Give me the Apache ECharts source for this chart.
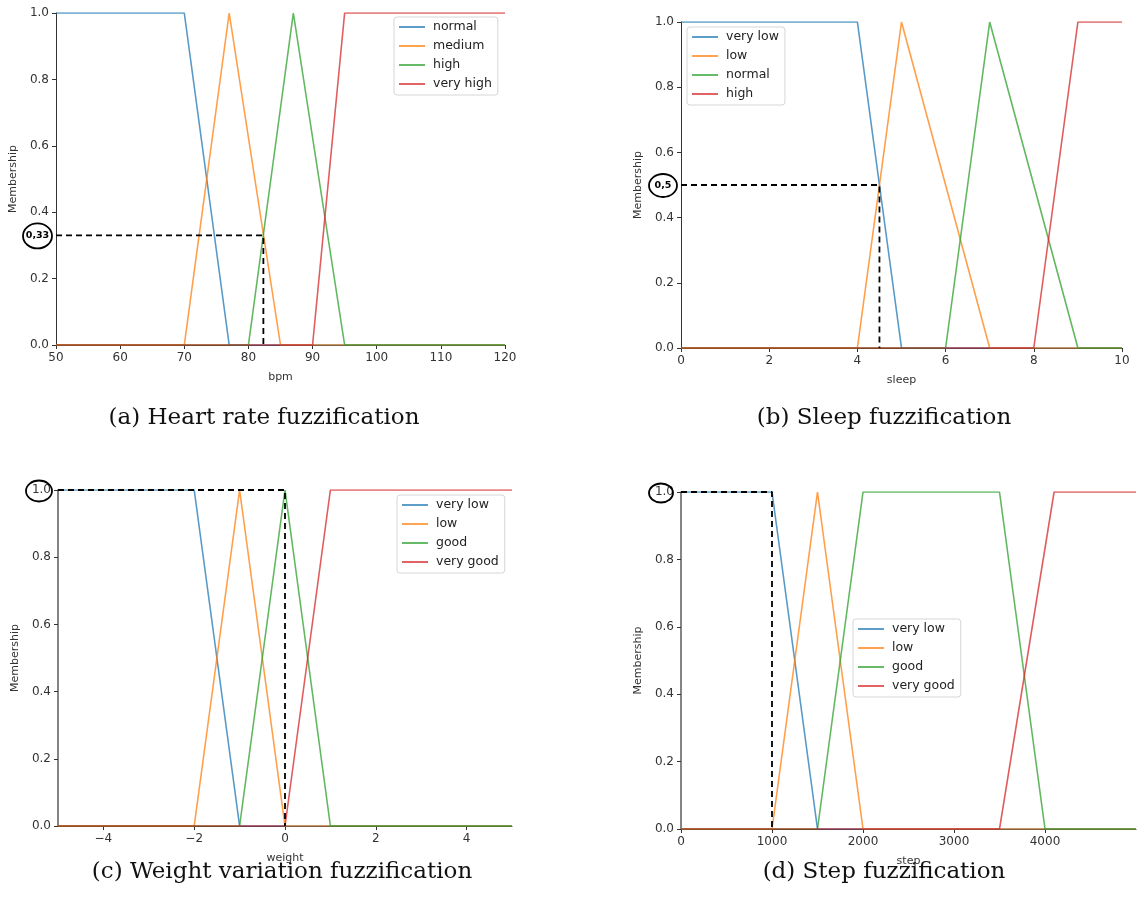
<!DOCTYPE html>
<html>
<head>
<meta charset="utf-8">
<script src="https://cdn.jsdelivr.net/npm/echarts@6/dist/echarts.min.js"></script>
<style>
  html, body { margin: 0; padding: 0; background: #fff; }
  #chart { width: 1137px; height: 920px; }
</style>
</head>
<body>
<div id="chart"></div>
<script>
// ---- Membership functions, given as breakpoints [x, membership] ----
// Heart rate (bpm)
const hrLabels   = ['normal', 'medium', 'high', 'very high'];
const hrNormal   = [[50, 1], [70, 1], [77, 0], [120, 0]];
const hrMedium   = [[50, 0], [70, 0], [77, 1], [85, 0], [120, 0]];
const hrHigh     = [[50, 0], [80, 0], [87, 1], [95, 0], [120, 0]];
const hrVeryHigh = [[50, 0], [90, 0], [95, 1], [120, 1]];
const hrTicks    = [50, 60, 70, 80, 90, 100, 110, 120];

// Sleep (hours)
const sleepLabels  = ['very low', 'low', 'normal', 'high'];
const sleepVeryLow = [[0, 1], [4, 1], [5, 0], [10, 0]];
const sleepLow     = [[0, 0], [4, 0], [5, 1], [7, 0], [10, 0]];
const sleepNormal  = [[0, 0], [6, 0], [7, 1], [9, 0], [10, 0]];
const sleepHigh    = [[0, 0], [8, 0], [9, 1], [10, 1]];
const sleepTicks   = [0, 2, 4, 6, 8, 10];

// Weight variation
const weightLabels   = ['very low', 'low', 'good', 'very good'];
const weightVeryLow  = [[-5, 1], [-2, 1], [-1, 0], [5, 0]];
const weightLow      = [[-5, 0], [-2, 0], [-1, 1], [0, 0], [5, 0]];
const weightGood     = [[-5, 0], [-1, 0], [0, 1], [1, 0], [5, 0]];
const weightVeryGood = [[-5, 0], [0, 0], [1, 1], [5, 1]];
const weightTicks    = [-4, -2, 0, 2, 4];

// Daily steps
const stepLabels   = ['very low', 'low', 'good', 'very good'];
const stepVeryLow  = [[0, 1], [1000, 1], [1500, 0], [5000, 0]];
const stepLow      = [[0, 0], [1000, 0], [1500, 1], [2000, 0], [5000, 0]];
const stepGood     = [[0, 0], [1500, 0], [2000, 1], [3500, 1], [4000, 0], [5000, 0]];
const stepVeryGood = [[0, 0], [3500, 0], [4100, 1], [5000, 1]];
const stepTicks    = [0, 1000, 2000, 3000, 4000];

// Membership axis ticks
const muTicks = [0, 0.2, 0.4, 0.6, 0.8, 1.0];

// Crisp inputs and the membership degree read for each
const hrInput     = { x: 82.33, mu: 0.33, text: '0,33' };
const sleepInput  = { x: 4.5,   mu: 0.5,  text: '0,5' };
const weightInput = { x: 0,     mu: 1.0,  text: null };
const stepInput   = { x: 1000,  mu: 1.0,  text: null };

// ---- Layout and styling ----
const COLORS = ['#1f77b4', '#ff7f0e', '#2ca02c', '#d62728'];
const SANS = 'DejaVu Sans';
const SERIF = 'DejaVu Serif';

const panels = [
  {
    grid: { left: 56, top: 13, width: 449, height: 332 },
    xName: 'bpm', xMin: 50, xMax: 120, xTicks: hrTicks,
    labels: hrLabels, curves: [hrNormal, hrMedium, hrHigh, hrVeryHigh],
    legendPos: { left: 394, top: 17 },
    input: hrInput, ring: { dx: -18.5, dy: 0.5, rx: 14.5, ry: 12.5 },
    caption: '(a) Heart rate fuzzification', capPos: [264, 418]
  },
  {
    grid: { left: 681, top: 22, width: 441, height: 326 },
    xName: 'sleep', xMin: 0, xMax: 10, xTicks: sleepTicks,
    labels: sleepLabels, curves: [sleepVeryLow, sleepLow, sleepNormal, sleepHigh],
    legendPos: { left: 687, top: 27 },
    input: sleepInput, ring: { dx: -18, dy: 0.5, rx: 14, ry: 11.5 },
    caption: '(b) Sleep fuzzification', capPos: [884, 418]
  },
  {
    grid: { left: 58, top: 490, width: 454, height: 336 },
    xName: 'weight', xMin: -5, xMax: 5, xTicks: weightTicks,
    labels: weightLabels, curves: [weightVeryLow, weightLow, weightGood, weightVeryGood],
    legendPos: { left: 397, top: 495 },
    input: weightInput, ring: { dx: -19, dy: 1, rx: 13, ry: 10.5 },
    caption: '(c) Weight variation fuzzification', capPos: [282, 872]
  },
  {
    grid: { left: 681, top: 492, width: 455, height: 337 },
    xName: 'step', xMin: 0, xMax: 5000, xTicks: stepTicks,
    labels: stepLabels, curves: [stepVeryLow, stepLow, stepGood, stepVeryGood],
    legendPos: { left: 853, top: 619 },
    input: stepInput, ring: { dx: -20, dy: 1, rx: 12, ry: 9.5 },
    caption: '(d) Step fuzzification', capPos: [884, 872]
  }
];

const axisColor = '#333';
const fmtTick = v => String(v).replace('-', '\u2212');

const option = {
  animation: false,
  backgroundColor: '#fff',
  grid: panels.map(p => Object.assign({ containLabel: false }, p.grid)),
  xAxis: panels.map((p, i) => ({
    type: 'value', gridIndex: i, min: p.xMin, max: p.xMax,
    name: p.xName, nameLocation: 'middle', nameGap: 27,
    nameTextStyle: { fontFamily: SANS, fontSize: 11, color: '#333' },
    axisLine: { show: true, onZero: false, lineStyle: { color: axisColor, width: 1 } },
    axisTick: { show: true, length: 4, customValues: p.xTicks, lineStyle: { color: axisColor } },
    axisLabel: { customValues: p.xTicks, fontFamily: SANS, fontSize: 12, color: '#333', margin: 7, formatter: fmtTick },
    splitLine: { show: false }
  })),
  yAxis: panels.map((p, i) => ({
    type: 'value', gridIndex: i, min: 0, max: 1,
    name: 'Membership', nameLocation: 'middle', nameGap: 37,
    nameTextStyle: { fontFamily: SANS, fontSize: 11, color: '#333' },
    axisLine: { show: true, onZero: false,
                lineStyle: { color: i >= 2 ? '#666' : axisColor, width: i >= 2 ? 1.6 : 1 } },
    axisTick: { show: true, length: 4, customValues: muTicks, lineStyle: { color: axisColor } },
    axisLabel: { customValues: muTicks, fontFamily: SANS, fontSize: 12, color: '#333', margin: 7,
                 formatter: v => v.toFixed(1) },
    splitLine: { show: false }
  })),
  legend: panels.map(p => ({
    orient: 'vertical', left: p.legendPos.left, top: p.legendPos.top,
    selectedMode: false,
    icon: 'rect', itemWidth: 26, itemHeight: 2, itemGap: 5,
    padding: [3, 6, 4, 5],
    backgroundColor: 'rgba(255,255,255,0.8)',
    borderColor: '#d6d6d6', borderWidth: 1, borderRadius: 3,
    textStyle: { fontFamily: SANS, fontSize: 12.5, color: '#222', lineHeight: 14, padding: [0, 0, 0, 3] },
    data: p.labels.map((name, k) => ({
      name,
      itemStyle: { color: COLORS[k], opacity: 0.72, borderWidth: 0 }
    }))
  })),
  series: []
};

panels.forEach((p, i) => {
  p.curves.forEach((data, k) => {
    option.series.push({
      type: 'line', name: p.labels[k], xAxisIndex: i, yAxisIndex: i,
      data, symbol: 'none', silent: true, z: 2,
      lineStyle: { color: COLORS[k], width: 1.6, opacity: 0.75 },
      itemStyle: { color: COLORS[k] }
    });
  });
  // Dashed guide: from the membership axis across to the crisp input, then down to zero
  const g = p.input;
  option.series.push({
    type: 'line', name: 'input-' + i, xAxisIndex: i, yAxisIndex: i,
    data: [[p.xMin, g.mu], [g.x, g.mu], [g.x, 0]],
    symbol: 'none', silent: true, z: 5, clip: false,
    lineStyle: { color: '#000', width: 1.8, type: [6, 4] }
  });
});

const chart = echarts.init(document.getElementById('chart'), null, { renderer: 'canvas' });
chart.setOption(option);

// Circled membership values on the vertical axes, and sub-figure captions
const graphics = [];
panels.forEach((p, i) => {
  const pt = chart.convertToPixel({ gridIndex: i }, [p.xMin, p.input.mu]);
  const cx = pt[0] + p.ring.dx, cy = pt[1] + p.ring.dy;
  graphics.push({
    type: 'ellipse', silent: true, z: 20,
    shape: { cx, cy, rx: p.ring.rx, ry: p.ring.ry },
    style: { fill: p.input.text ? '#fff' : 'transparent', stroke: '#000', lineWidth: 1.8 }
  });
  if (p.input.text) {
    graphics.push({
      type: 'text', silent: true, z: 21, x: cx, y: cy,
      style: { text: p.input.text, fontFamily: SANS, fontWeight: 'bold', fontSize: 9.5,
               fill: '#000', align: 'center', verticalAlign: 'middle' }
    });
  }
  graphics.push({
    type: 'text', silent: true, x: p.capPos[0], y: p.capPos[1],
    style: { text: p.caption, fontFamily: SERIF, fontSize: 23, fill: '#111',
             align: 'center', verticalAlign: 'middle' }
  });
});
chart.setOption({ graphic: graphics });
</script>
</body>
</html>
